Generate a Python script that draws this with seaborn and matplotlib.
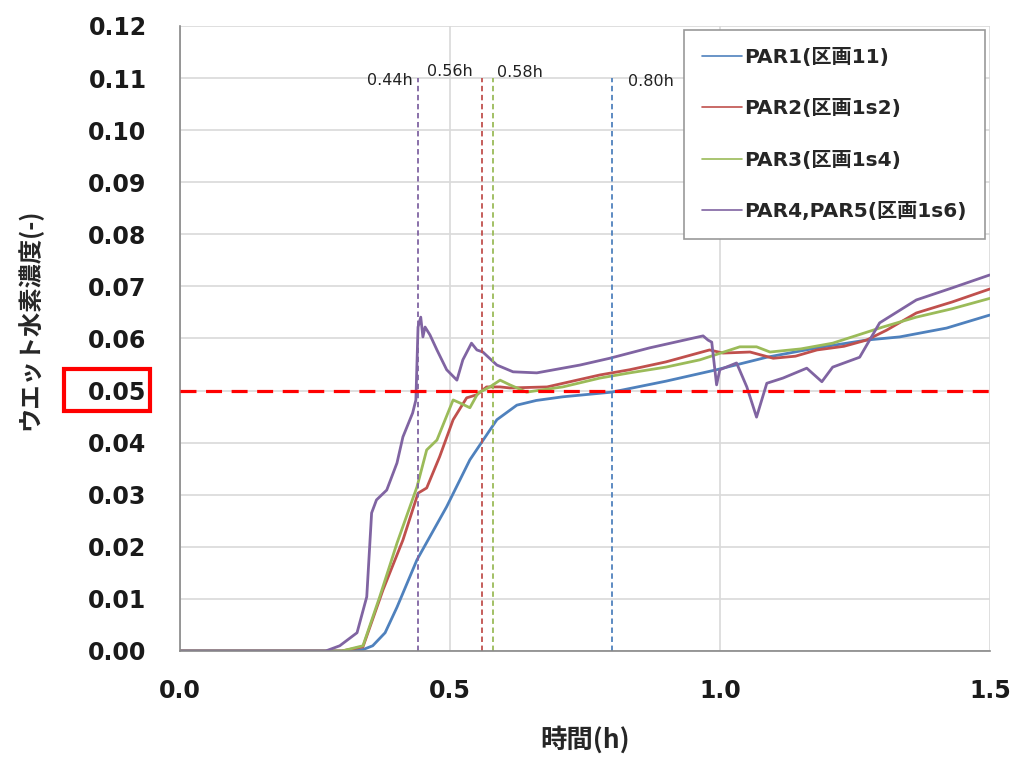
import matplotlib
import matplotlib.pyplot as plt
import matplotlib.transforms as mtransforms
from matplotlib.lines import Line2D
from matplotlib.patches import Rectangle
from matplotlib.ticker import MultipleLocator, FormatStrFormatter
import pandas as pd
import seaborn as sns

matplotlib.use('agg')

# series
par1_x = [0, 0.30, 0.34, 0.357, 0.38, 0.402, 0.439, 0.494, 0.537, 0.587, 0.624, 0.66, 0.709, 0.80, 0.90,
          0.994, 1.087, 1.18, 1.272, 1.333, 1.42, 1.5]
par1_y = [0, 0, 0.0003, 0.001, 0.0035, 0.0084, 0.0175, 0.0277, 0.0367, 0.0444, 0.0472, 0.0481, 0.0488, 0.0497,
          0.0518, 0.054, 0.0564, 0.0582, 0.0597, 0.0603, 0.0620, 0.0645]

par2_x = [0, 0.30, 0.339, 0.376, 0.413, 0.441, 0.457, 0.481, 0.506, 0.531, 0.550, 0.568, 0.593, 0.611, 0.68,
          0.778, 0.833, 0.90, 0.981, 1.006, 1.056, 1.099, 1.14, 1.18, 1.23, 1.272, 1.309, 1.364, 1.43, 1.5]
par2_y = [0, 0, 0.0008, 0.0117, 0.0213, 0.0303, 0.0313, 0.0373, 0.0444, 0.0486, 0.0492, 0.0507, 0.0507, 0.0505,
          0.0507, 0.053, 0.054, 0.0555, 0.0578, 0.0572, 0.0574, 0.0562, 0.0566, 0.0578, 0.0585, 0.0597, 0.0616,
          0.0649, 0.0670, 0.0695]

par3_x = [0, 0.30, 0.339, 0.37, 0.402, 0.439, 0.457, 0.476, 0.506, 0.519, 0.537, 0.552, 0.574, 0.593, 0.611,
          0.642, 0.709, 0.778, 0.833, 0.90, 0.963, 1.037, 1.068, 1.093, 1.15, 1.209, 1.302, 1.364, 1.43, 1.5]
par3_y = [0, 0, 0.001, 0.0104, 0.0207, 0.0315, 0.0386, 0.0405, 0.0482, 0.0476, 0.0467, 0.0495, 0.0507, 0.052,
          0.0511, 0.0497, 0.0507, 0.0524, 0.0534, 0.0545, 0.0559, 0.0584, 0.0584, 0.0574, 0.0580, 0.0591, 0.0622,
          0.0641, 0.0657, 0.0677]

par4_x = [0, 0.27, 0.296, 0.328, 0.346, 0.355, 0.364, 0.383, 0.402, 0.413, 0.431, 0.437, 0.441, 0.446, 0.45,
          0.454, 0.463, 0.476, 0.494, 0.513, 0.524, 0.54, 0.55, 0.561, 0.587, 0.617, 0.661, 0.741, 0.796, 0.87,
          0.969, 0.978, 0.985, 0.994, 1.0, 1.031, 1.05, 1.068, 1.087, 1.117, 1.161, 1.189, 1.209, 1.259, 1.296,
          1.364, 1.43, 1.5]
par4_y = [0, 0, 0.001, 0.0035, 0.0104, 0.0265, 0.029, 0.0309, 0.0361, 0.0411, 0.0457, 0.0482, 0.0622, 0.0641,
          0.0603, 0.0622, 0.0607, 0.0578, 0.054, 0.052, 0.0559, 0.0591, 0.0578, 0.0574, 0.0549, 0.0536, 0.0534,
          0.0549, 0.0562, 0.0582, 0.0605, 0.0597, 0.0593, 0.0511, 0.054, 0.0553, 0.0507, 0.0449, 0.0514, 0.0524,
          0.0543, 0.0517, 0.0545, 0.0564, 0.0630, 0.0674, 0.0697, 0.0722]

labels = ["PAR1(区画11)", "PAR2(区画1s2)", "PAR3(区画1s4)", "PAR4,PAR5(区画1s6)"]
colors = ["#4F81BD", "#C0504D", "#9BBB59", "#8064A2"]

# time at which each series reaches 0.05
cross_times = [0.80, 0.56, 0.58, 0.44]
cross_labels = ["0.80h", "0.56h", "0.58h", "0.44h"]
threshold = 0.05

sns.set_style("white")
plt.rcParams['font.family'] = ['DejaVu Sans', 'Noto Sans CJK JP']
cjk = ['Noto Sans CJK JP', 'DejaVu Sans']

frames = []
for lab, xs, ys in zip(labels, [par1_x, par2_x, par3_x, par4_x], [par1_y, par2_y, par3_y, par4_y]):
    frames.append(pd.DataFrame({"time": xs, "conc": ys, "series": lab}))
df = pd.concat(frames, ignore_index=True)

fig = plt.figure(figsize=(10.11, 7.58), dpi=100)
ax = fig.add_axes([0.178, 0.1412, 0.801, 0.8245])

sns.lineplot(data=df, x="time", y="conc", hue="series", palette=colors, estimator=None,
             sort=False, linewidth=2.0, legend=False, ax=ax)

ax.set_xlim(0, 1.5)
ax.set_ylim(0, 0.12)
ax.yaxis.set_major_locator(MultipleLocator(0.01))
ax.xaxis.set_major_locator(MultipleLocator(0.5))
ax.xaxis.set_minor_locator(MultipleLocator(0.1))
ax.grid(True, which="major", color="#d9d9d9", linewidth=1.2)
ax.set_axisbelow(True)
for side in ["top", "right"]:
    ax.spines[side].set_visible(False)
for side in ["left", "bottom"]:
    ax.spines[side].set_color("#888888")
    ax.spines[side].set_linewidth(1.2)

ax.yaxis.set_major_formatter(FormatStrFormatter("%.2f"))
ax.xaxis.set_major_formatter(FormatStrFormatter("%.1f"))
ax.tick_params(axis="both", labelsize=17, colors="#888888", labelcolor="#1a1a1a")
ax.tick_params(axis="y", which="major", direction="out", length=5, width=1, pad=19)
ax.tick_params(axis="x", which="major", direction="out", length=7, width=1.2, pad=13)
ax.tick_params(axis="x", which="minor", direction="out", length=4, width=1, colors="#888888")
for lab in ax.get_xticklabels() + ax.get_yticklabels():
    lab.set_fontweight("bold")

ax.set_xlabel("時間(h)", fontsize=19, fontweight="bold", family=cjk, labelpad=17)
ax.set_ylabel("ウエット水素濃度(-)", fontsize=17.5, fontweight="bold", family=cjk)
ax.yaxis.set_label_coords(-0.17, 0.531)

# 0.05 threshold
ax.axhline(threshold, color="red", linestyle=(0, (5, 3)), linewidth=2.3, zorder=3)

# crossing times
for t, lab, c in zip(cross_times, cross_labels, colors):
    ax.plot([t, t], [0, 0.110], color=c, linestyle=(0, (3, 2)), linewidth=1.3)
text_pos = {"0.44h": (0.432, 0.1095, "right"), "0.56h": (0.457, 0.1112, "left"),
            "0.58h": (0.588, 0.1110, "left"), "0.80h": (0.83, 0.1093, "left")}
for lab in cross_labels:
    tx, ty, ha = text_pos[lab]
    ax.text(tx, ty, lab, fontsize=11.5, ha=ha, va="center", color="#222222")

# red box around the 0.05 tick label
trans = mtransforms.blended_transform_factory(ax.transAxes, ax.transData)
ax.add_patch(Rectangle((-0.143, 0.0461), 0.106, 0.008, transform=trans, fill=False,
                       edgecolor="red", linewidth=3, clip_on=False))

handles = [Line2D([0], [0], color=c, linewidth=1.2) for c in colors]
leg = ax.legend(handles, labels, loc="upper right", bbox_to_anchor=(0.9938, 0.9936), borderaxespad=0,
                prop={"family": ['DejaVu Sans', 'Noto Sans CJK JP'], "size": 14.5, "weight": "bold"},
                frameon=True, fancybox=False, edgecolor="#999999", framealpha=1,
                labelspacing=1.6, handlelength=2.0, handletextpad=0.1, borderpad=0.9)
leg.get_frame().set_linewidth(1.2)

plt.savefig("out.png", dpi=100)
